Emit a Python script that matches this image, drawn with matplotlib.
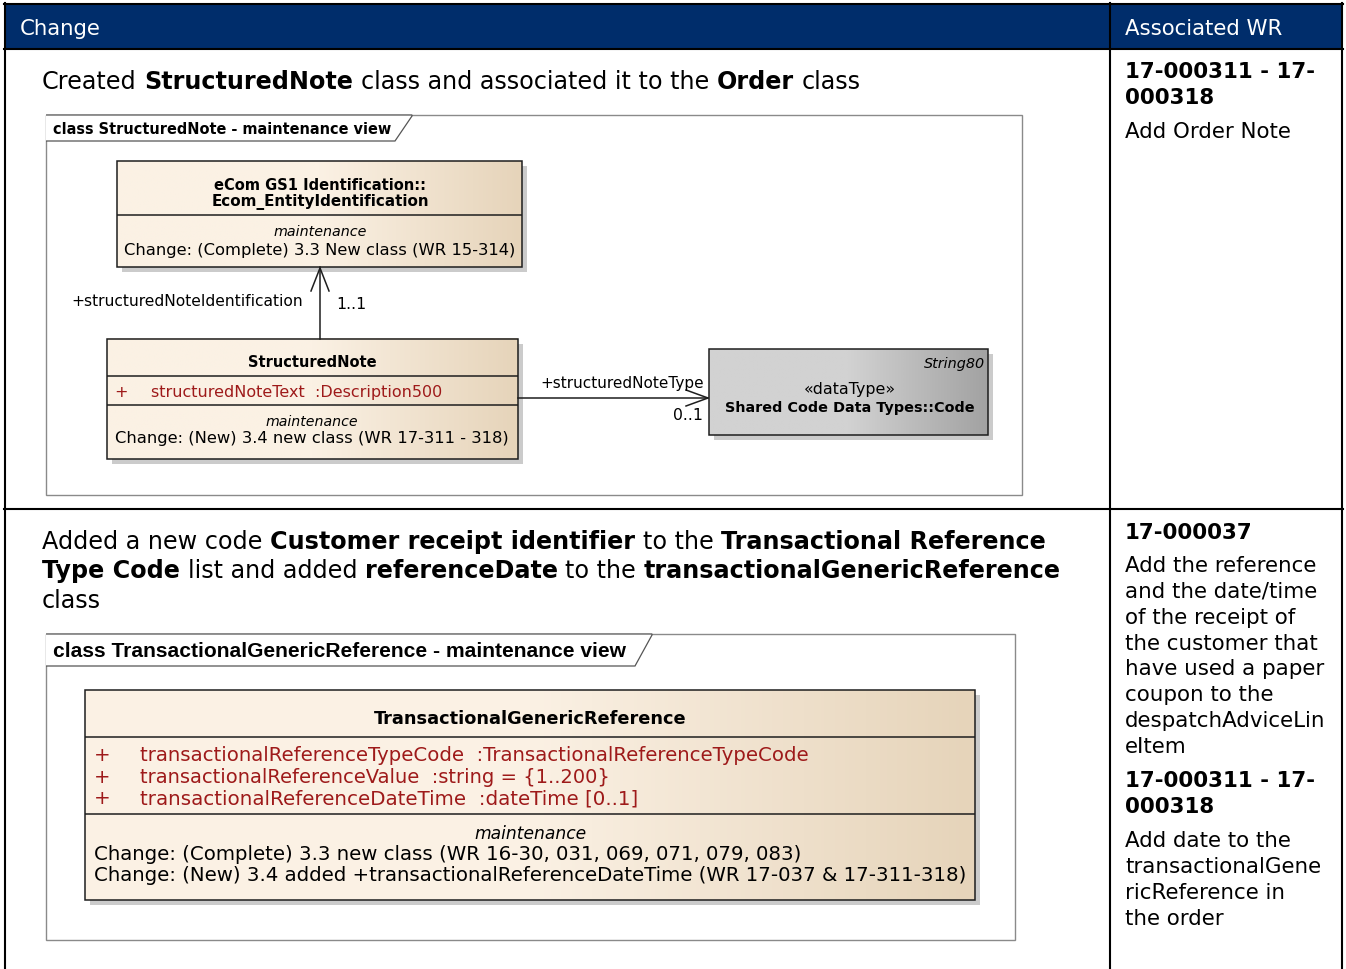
import matplotlib
matplotlib.use("Agg")
import matplotlib.pyplot as plt
import numpy as np
from matplotlib.patches import Rectangle, Polygon
from matplotlib.colors import LinearSegmentedColormap
from matplotlib import font_manager

# ---------------- data (texts of the table) ----------------
HEADERS = ["Change", "Associated WR"]

ROW1_DESC = [
    [("Created ", "normal"), ("StructuredNote", "bold"),
     (" class and associated it to the ", "normal"), ("Order", "bold"), (" class", "normal")],
]
ROW2_DESC = [
    [("Added a new code ", "normal"), ("Customer receipt identifier", "bold"),
     (" to the ", "normal"), ("Transactional Reference", "bold")],
    [("Type Code", "bold"), (" list and added ", "normal"), ("referenceDate", "bold"),
     (" to the ", "normal"), ("transactionalGenericReference", "bold")],
    [("class", "normal")],
]

ROW1_WR = [("17-000311 - 17-", "bold"), ("000318", "bold"), ("Add Order Note", "normal")]
ROW2_WR = [("17-000037", "bold"), ("Add the reference", "normal"), ("and the date/time", "normal"),
           ("of the receipt of", "normal"), ("the customer that", "normal"),
           ("have used a paper", "normal"), ("coupon to the", "normal"),
           ("despatchAdviceLin", "normal"), ("eItem", "normal"),
           ("17-000311 - 17-", "bold"), ("000318", "bold"),
           ("Add date to the", "normal"), ("transactionalGene", "normal"),
           ("ricReference in", "normal"), ("the order", "normal")]

D1_TITLE = "class StructuredNote - maintenance view"
D1_ID_NAME = ["eCom GS1 Identification::", "Ecom_EntityIdentification"]
D1_ID_NOTE = ["maintenance", "Change: (Complete) 3.3 New class (WR 15-314)"]
D1_SN_NAME = "StructuredNote"
D1_SN_ATTR = ["structuredNoteText  :Description500"]
D1_SN_NOTE = ["maintenance", "Change: (New) 3.4 new class (WR 17-311 - 318)"]
D1_ROLE_UP = ["+structuredNoteIdentification", "1..1"]
D1_ROLE_RIGHT = ["+structuredNoteType", "0..1"]
D1_DT = ["String80", "\u00abdataType\u00bb", "Shared Code Data Types::Code"]

D2_TITLE = "class TransactionalGenericReference - maintenance view"
D2_NAME = "TransactionalGenericReference"
D2_ATTR = ["transactionalReferenceTypeCode  :TransactionalReferenceTypeCode",
           "transactionalReferenceValue  :string = {1..200}",
           "transactionalReferenceDateTime  :dateTime [0..1]"]
D2_NOTE = ["maintenance",
           "Change: (Complete) 3.3 new class (WR 16-30, 031, 069, 071, 079, 083)",
           "Change: (New) 3.4 added +transactionalReferenceDateTime (WR 17-037 & 17-311-318)"]

# ---------------- figure ----------------
W, H = 1346, 970
fig = plt.figure(figsize=(W / 100, H / 100), dpi=100)
ax = fig.add_axes([0, 0, 1, 1])
ax.set_xlim(0, W)
ax.set_ylim(H, 0)
ax.axis("off")
R = fig.canvas.get_renderer()

NAVY = "#002D6B"
RED = "#9E1A1A"
FAM = "DejaVu Sans"


def has_font(name):
    try:
        font_manager.findfont(name, fallback_to_default=False)
        return True
    except Exception:
        return False


NARROW = "Liberation Sans Narrow" if has_font("Liberation Sans Narrow") else "DejaVu Sans"
SANS2 = "Liberation Sans"


def twidth(s, size, weight="normal", style="normal", family=FAM):
    t = ax.text(0, 0, s, fontsize=size, fontweight=weight, fontstyle=style, family=family)
    w = t.get_window_extent(R).width
    t.remove()
    return w


def fitsize(s, width, weight="normal", style="normal", family=FAM):
    return 10 * width / twidth(s, 10, weight, style, family)


def fit(x, y, s, width, weight="normal", style="normal", ha="left", color="black",
        family=FAM, z=5):
    size = fitsize(s, width, weight, style, family)
    ax.text(x, y, s, fontsize=size, fontweight=weight, fontstyle=style, ha=ha,
            va="center", color=color, family=family, zorder=z)
    return size


def runs(x, y, parts, size, color="black"):
    sp = {w: twidth("a a", size, w) - twidth("aa", size, w) for w in ("normal", "bold")}
    for s, w in parts:
        lead = len(s) - len(s.lstrip(" "))
        trail = len(s) - len(s.rstrip(" "))
        x += lead * sp[w]
        core = s.strip(" ")
        if core:
            t = ax.text(x, y, core, fontsize=size, fontweight=w, va="center", ha="left",
                        color=color, family=FAM, zorder=5)
            x += t.get_window_extent(R).width
        x += trail * sp[w]


def gbox(x0, y0, x1, y1, c0, c1):
    ax.add_patch(Rectangle((x0 + 5, y0 + 5), x1 - x0, y1 - y0, fc="#CBCBCB", ec="none", zorder=1))
    grad = np.linspace(0, 1, 256).reshape(1, -1)
    cmap = LinearSegmentedColormap.from_list("g", [c0, c0, c1])
    ax.imshow(grad, extent=(x0, x1, y1, y0), aspect="auto", cmap=cmap, zorder=2,
              interpolation="bilinear")
    ax.add_patch(Rectangle((x0, y0), x1 - x0, y1 - y0, fc="none", ec="#1E1E1E", lw=1.1, zorder=3))


def hline(x0, x1, y, c="#1E1E1E", lw=1.1, z=3):
    ax.plot([x0, x1], [y, y], color=c, lw=lw, zorder=z, solid_capstyle="butt")


def frame(x0, y0, x1, y1, tab_w, tab_h, title, title_w, family=FAM):
    ax.add_patch(Rectangle((x0, y0), x1 - x0, y1 - y0, fc="white", ec="#8A8A8A", lw=1.0, zorder=0.5))
    ax.add_patch(Polygon([(x0, y0), (x0 + tab_w, y0), (x0 + tab_w, y0 + 1),
                          (x0 + tab_w - 17, y0 + tab_h), (x0, y0 + tab_h)],
                         closed=False, fc="white", ec="#555555", lw=0.9, zorder=0.6))
    fit(x0 + 7, y0 + tab_h / 2 + 1, title, title_w, weight="bold", family=family)


# ---------------- table ----------------
ax.add_patch(Rectangle((5, 5), 1337, 45, fc=NAVY, ec="none", zorder=0.2))
TLW = 1.5
ax.plot([5, 5], [4, H], color="black", lw=TLW)
ax.plot([1342, 1342], [4, H], color="black", lw=TLW)
ax.plot([1110, 1110], [4, H], color="black", lw=TLW)
ax.plot([4, 1343], [5, 5], color="black", lw=TLW)
ax.plot([4, 1343], [50, 50], color="black", lw=TLW)
ax.plot([4, 1343], [510, 510], color="black", lw=TLW)

HEAD = 15.3
ax.text(20, 29, HEADERS[0], color="white", fontsize=HEAD, va="center", family=FAM)
ax.text(1125, 29, HEADERS[1], color="white", fontsize=HEAD, va="center", family=FAM)

MAIN = 17.2
runs(42, 82, ROW1_DESC[0], MAIN)
for i, line in enumerate(ROW2_DESC):
    runs(42, 542 + i * 29.5, line, MAIN)

WRS = 15.4
wr1_y = [72, 98, 132]
for (s, w), y in zip(ROW1_WR, wr1_y):
    ax.text(1125, y, s, fontsize=WRS, fontweight=w, va="center", family=FAM)
wr2_y = [533, 566, 592, 618, 644, 669, 695, 721, 747, 781, 807, 841, 867, 893, 919]
for (s, w), y in zip(ROW2_WR, wr2_y):
    ax.text(1125, y, s, fontsize=WRS, fontweight=w, va="center", family=FAM)

# ---------------- diagram 1 ----------------
frame(46, 116, 1022, 496, 366, 26, D1_TITLE, 338)

BEIGE0, BEIGE1 = "#FBF1E4", "#E6D4BA"
# Ecom_EntityIdentification
gbox(117, 162, 522, 268, BEIGE0, BEIGE1)
hline(117, 522, 216)
fit(320, 185, D1_ID_NAME[0], 211, weight="bold", ha="center")
fit(320, 202, D1_ID_NAME[1], 217, weight="bold", ha="center")
fit(320, 232, D1_ID_NOTE[0], 93, style="italic", ha="center")
fit(320, 250, D1_ID_NOTE[1], 391, ha="center")

# association up
ax.plot([320, 320], [268, 340], color="#1E1E1E", lw=1.1, zorder=3)
ax.plot([311, 320, 329], [292, 269, 292], color="#1E1E1E", lw=1.1, zorder=3)
fit(71, 302, D1_ROLE_UP[0], 231)
fit(336, 305, D1_ROLE_UP[1], 30)

# StructuredNote
gbox(107, 340, 518, 460, BEIGE0, BEIGE1)
hline(107, 518, 377)
hline(107, 518, 406)
fit(312, 363, D1_SN_NAME, 128, weight="bold", ha="center")
asz = fit(151, 393, D1_SN_ATTR[0], 289, color=RED)
ax.text(114, 393, "+", fontsize=asz, color=RED, va="center", family=FAM, zorder=5)
fit(312, 422, D1_SN_NOTE[0], 92, style="italic", ha="center")
fit(312, 439, D1_SN_NOTE[1], 393, ha="center")

# association right
ax.plot([518, 708], [399, 399], color="#1E1E1E", lw=1.1, zorder=3)
ax.plot([686, 708, 686], [391, 399, 407], color="#1E1E1E", lw=1.1, zorder=3)
fit(540, 384, D1_ROLE_RIGHT[0], 163)
fit(703, 416, D1_ROLE_RIGHT[1], 30, ha="right")

# datatype
gbox(709, 350, 988, 436, "#D2D2D2", "#A2A2A2")
fit(985, 364, D1_DT[0], 61, style="italic", ha="right")
fit(850, 390, D1_DT[1], 92, ha="center")
fit(850, 408, D1_DT[2], 251, weight="bold", ha="center")

# ---------------- diagram 2 ----------------
frame(46, 635, 1015, 941, 606, 32, D2_TITLE, 570, family=SANS2)

gbox(85, 691, 975, 901, BEIGE0, BEIGE1)
hline(85, 975, 738)
hline(85, 975, 815)
fit(530, 719, D2_NAME, 312, weight="bold", ha="center")
attr_w = [672, 469, 498]
for i, (s, w) in enumerate(zip(D2_ATTR, attr_w)):
    y = 756 + i * 21.5
    asz = fit(140, y, s, w, color=RED)
    ax.text(94, y, "+", fontsize=asz, color=RED, va="center", family=FAM, zorder=5)
nsz = min(fitsize(D2_NOTE[1], 720, family=NARROW), fitsize(D2_NOTE[2], 872, family=NARROW))
fit(530, 834, D2_NOTE[0], 112, style="italic", ha="center", family=NARROW)
ax.text(94, 855, D2_NOTE[1], fontsize=nsz, va="center", family=NARROW, zorder=5)
ax.text(94, 876, D2_NOTE[2], fontsize=nsz, va="center", family=NARROW, zorder=5)

ax.set_xlim(0, W)
ax.set_ylim(H, 0)
fig.savefig("out.png", dpi=100)
